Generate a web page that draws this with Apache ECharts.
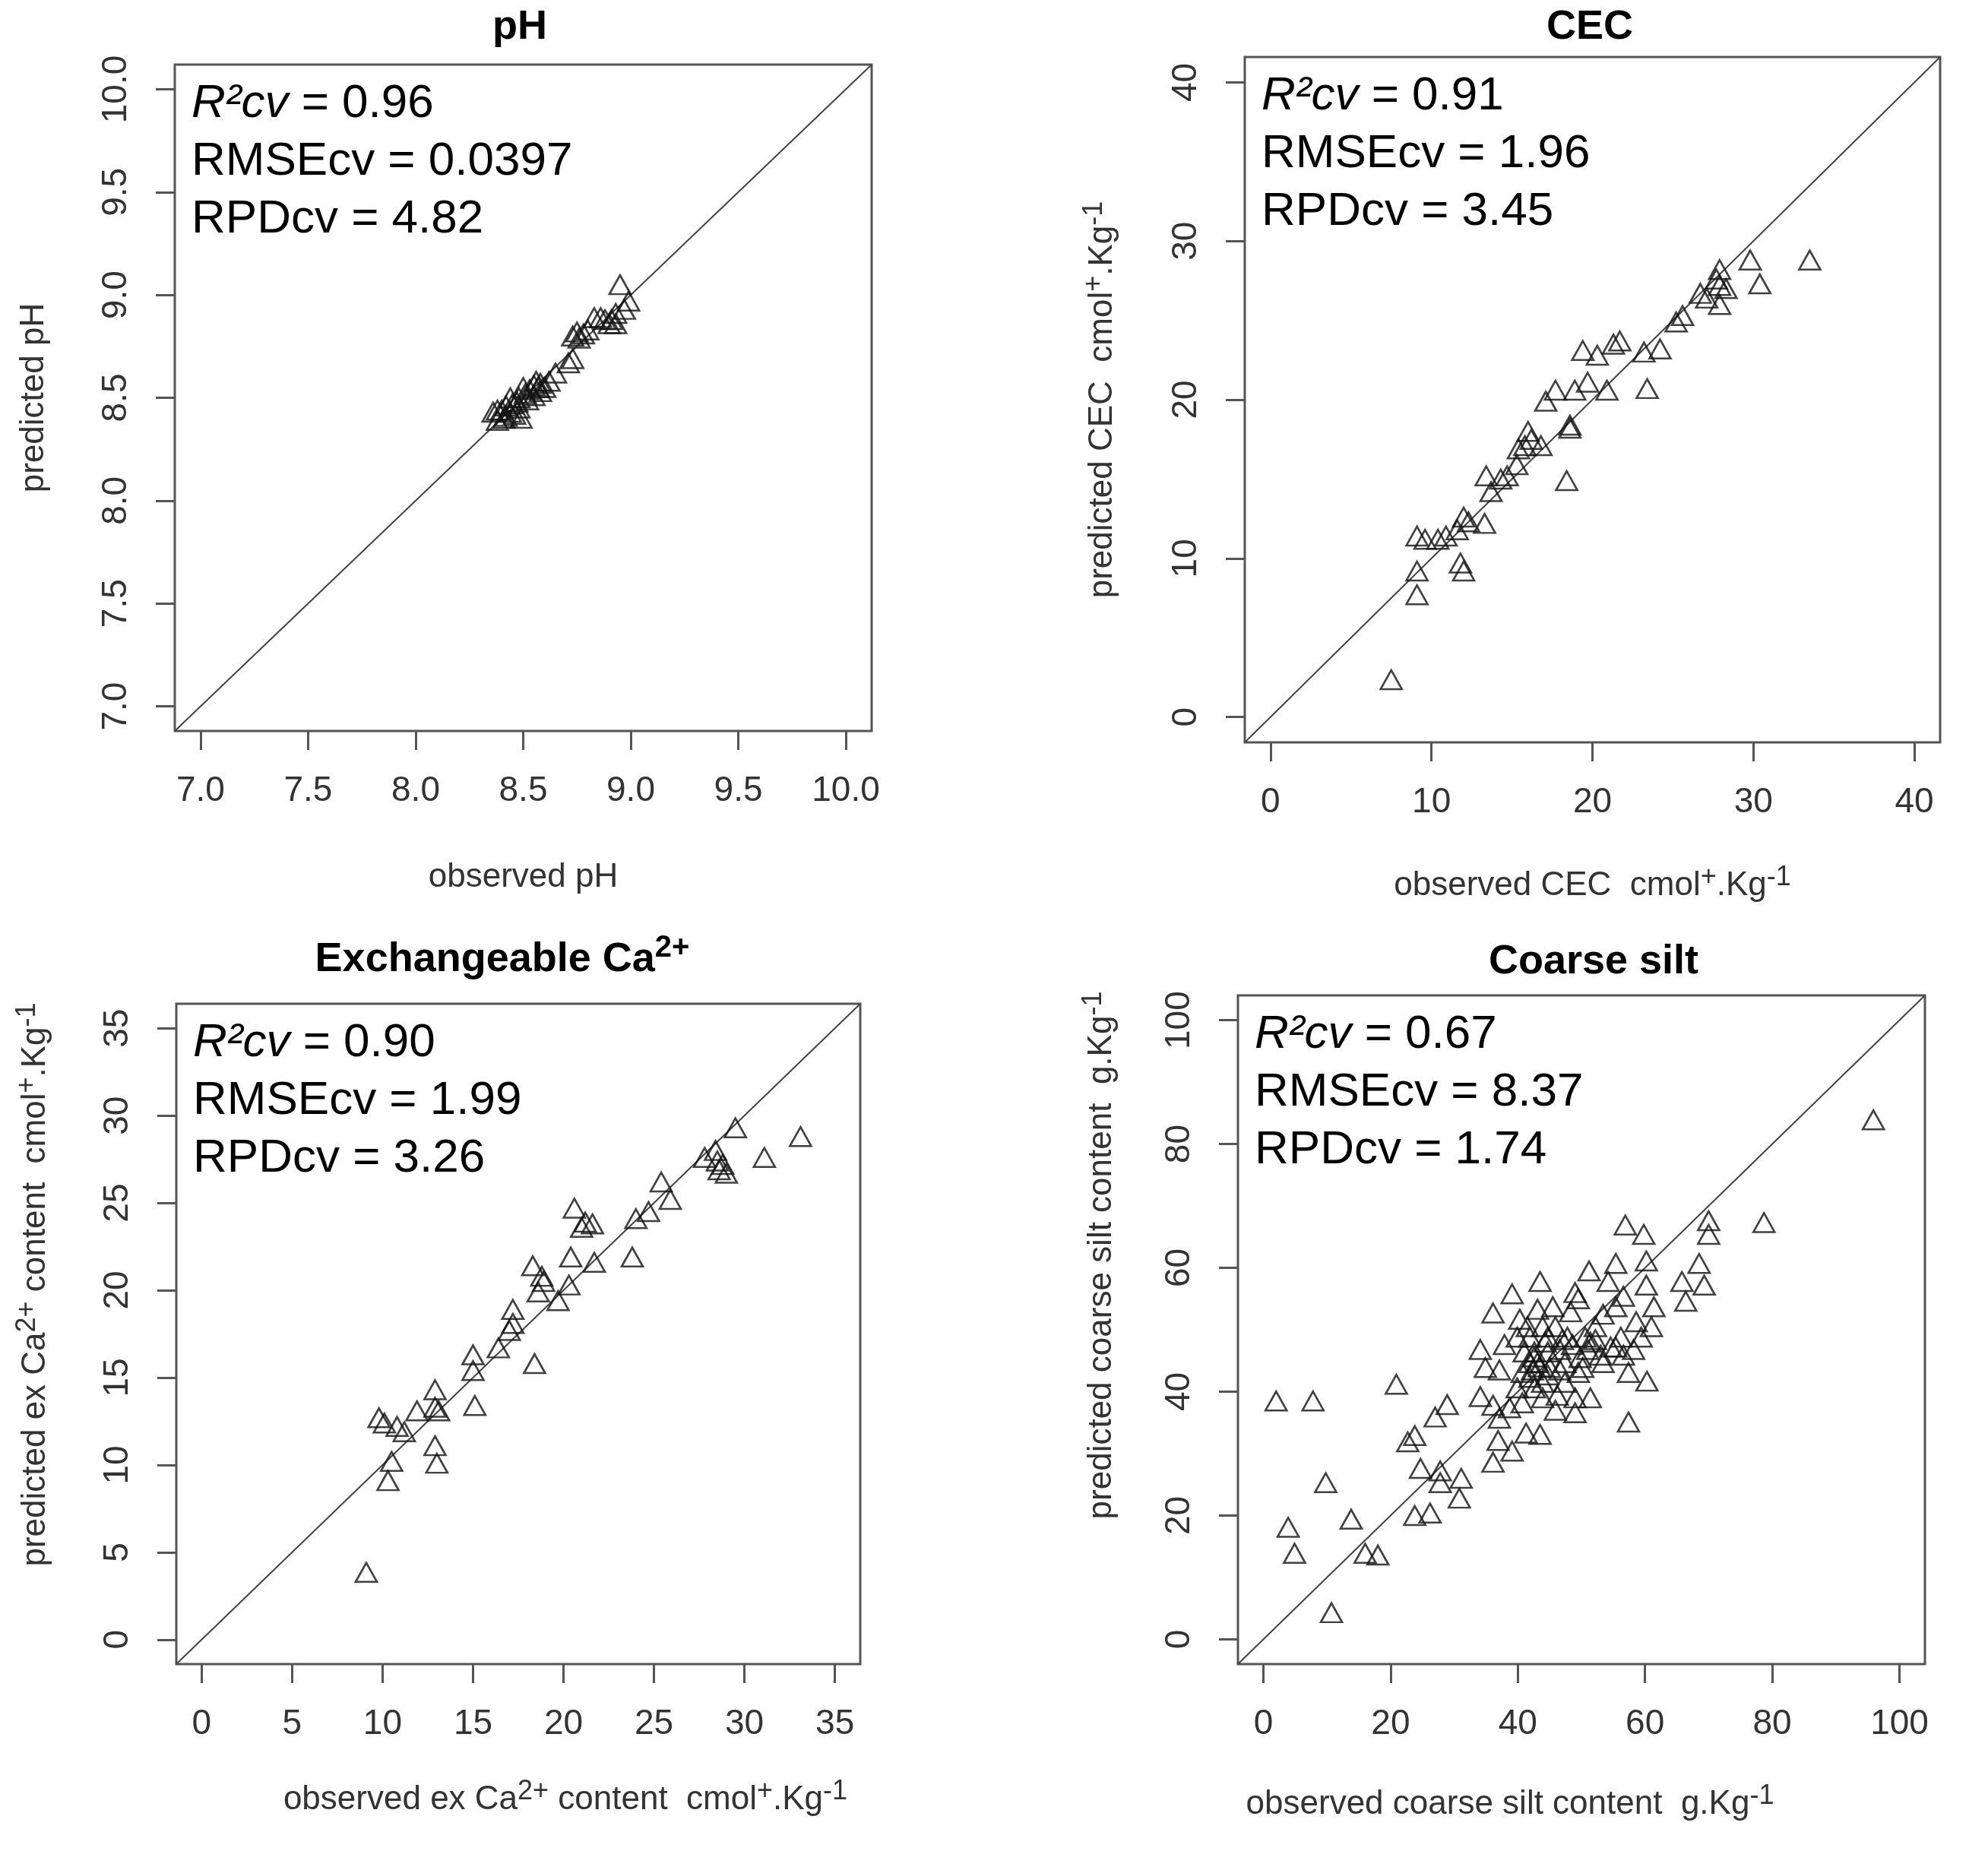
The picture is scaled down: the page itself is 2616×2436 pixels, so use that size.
<!DOCTYPE html>
<html>
<head>
<meta charset="utf-8">
<script src="https://cdn.jsdelivr.net/npm/echarts@6/dist/echarts.min.js"></script>
<style>
html,body{margin:0;padding:0;background:#fff;}
#main{width:2616px;height:2436px;}
</style>
</head>
<body>
<div id="main"></div>
<script>

// =================================
// cross-validation scatter plots
// observed vs predicted, 4 panels
// =================================

const FONT = "'Liberation Sans', Arial, sans-serif";


// ---- pH ----
const phObs = [8.95, 8.99, 8.97, 8.93, 8.91, 8.88, 8.93, 8.90, 8.86, 8.83,
  8.80, 8.78, 8.75, 8.73, 8.76, 8.73, 8.71, 8.65, 8.62, 8.58,
  8.57, 8.55, 8.53, 8.51, 8.50, 8.48, 8.47, 8.45, 8.44, 8.42,
  8.40, 8.38, 8.36, 8.38, 8.42, 8.46, 8.49, 8.44, 8.52, 8.55,
  8.58, 8.60, 8.56, 8.48, 8.41];
const phPred = [9.05, 8.97, 8.93, 8.91, 8.88, 8.88, 8.86, 8.86, 8.89, 8.89,
  8.83, 8.81, 8.82, 8.80, 8.79, 8.69, 8.67, 8.62, 8.58, 8.57,
  8.55, 8.56, 8.54, 8.52, 8.55, 8.50, 8.48, 8.47, 8.50, 8.46,
  8.44, 8.44, 8.43, 8.39, 8.41, 8.42, 8.40, 8.43, 8.49, 8.51,
  8.53, 8.55, 8.58, 8.45, 8.40];
const phTicks = [7, 7.5, 8, 8.5, 9, 9.5, 10];


// ---- CEC ----
const cecObs = [7.5, 9.1, 9.1, 9.1, 9.6, 10.4, 10.9, 11.6, 12.0, 12.3,
  11.8, 12.0, 13.3, 13.4, 13.7, 14.3, 14.7, 15.3, 15.8, 16.2,
  15.4, 16.0, 16.8, 18.6, 18.6, 18.4, 17.1, 17.7, 18.9, 19.7,
  20.9, 19.4, 20.3, 21.3, 21.7, 23.2, 24.2, 23.4, 25.2, 25.6,
  26.7, 27.1, 27.9, 28.3, 27.9, 27.9, 27.7, 29.8, 30.4, 33.5];
const cecPred = [2.35, 7.7, 9.2, 11.4, 11.2, 11.2, 11.4, 11.8, 12.6, 12.3,
  9.7, 9.2, 12.2, 15.2, 14.2, 15.0, 15.2, 15.9, 17.1, 17.5,
  16.9, 18.0, 17.1, 18.4, 18.2, 14.9, 19.9, 20.6, 20.6, 21.1,
  20.6, 23.1, 22.8, 23.5, 23.7, 23.0, 23.2, 20.7, 24.9, 25.3,
  26.7, 26.4, 27.2, 27.0, 26.0, 28.2, 27.6, 28.8, 27.3, 28.8];
const cecTicks = [0, 10, 20, 30, 40];


// ---- exchangeable Ca2+ ----
const caObs = [9.1, 9.8, 10.1, 10.5, 10.3, 10.8, 11.2, 11.9, 12.9, 12.9,
  13.1, 12.9, 13.0, 15.0, 15.0, 15.1, 16.4, 17.0, 17.2, 17.2,
  18.4, 18.3, 18.8, 18.6, 18.9, 19.7, 20.3, 20.4, 20.6, 21.0,
  21.2, 21.6, 21.7, 24.0, 24.7, 23.8, 25.4, 25.9, 27.8, 28.4,
  28.5, 28.6, 28.8, 29.0, 29.5, 31.1, 33.1];
const caPred = [3.85, 12.7, 12.4, 10.2, 9.1, 12.2, 11.9, 13.1, 14.3, 13.3,
  13.1, 11.1, 10.1, 15.4, 16.3, 13.4, 16.7, 17.7, 18.1, 18.9,
  15.8, 21.4, 20.8, 19.9, 20.5, 19.4, 20.3, 21.9, 24.7, 23.6,
  23.9, 23.8, 21.6, 24.1, 24.5, 21.9, 26.2, 25.2, 27.6, 28.0,
  27.4, 26.9, 27.2, 26.7, 29.3, 27.6, 28.8];
const caTicks = [0, 5, 10, 15, 20, 25, 30, 35];


// ---- coarse silt ----
const siltObs = [95.9, 78.7, 70.0, 70.0, 56.9, 59.8,
  20.9, 2.0, 7.8, 28.9, 27.0, 23.8, 22.7, 24.7, 27.8, 27.8, 31.1, 30.8,
  23.8, 26.2, 13.8, 9.8, 3.9, 4.9, 16.0, 18.0, 10.7,
  43.5, 39.1, 36.1, 34.1, 34.9, 37.1, 34.1, 36.1, 37.1, 36.9,
  39.1, 36.1, 41.3, 43.5, 40.3, 43.1, 45.5, 49.0, 51.2, 55.4,
  60.2, 54.2, 56.6, 60.2, 61.4, 61.0, 59.4, 56.2, 54.6, 65.8,
  68.5, 69.3, 66.4, 51.4, 50.2, 53.0, 56.6, 57.4, 41.9, 42.6,
  42.3, 43.9, 45.0, 46.6, 47.8, 45.9, 48.3, 49.5, 42.6, 43.9,
  46.2, 49.0, 51.4, 45.9, 49.0, 39.9, 40.7, 38.7, 44.3, 44.7,
  47.4, 49.8, 52.2, 53.4, 55.4, 53.4, 55.4, 58.6, 58.2, 41.0,
  41.5, 39.9, 43.1, 37.9, 49.5, 42.6, 43.4, 41.9, 44.7, 47.0,
  48.6, 50.6, 51.0, 41.9, 44.7, 47.4, 40.7, 43.9, 46.6, 52.2,
  57.4, 60.3];
const siltPred = [83.9, 67.3, 67.6, 65.4, 66.9, 65.4,
  41.2, 38.5, 38.5, 37.9, 35.9, 32.9, 31.9, 27.6, 27.2, 25.3, 26.0, 22.8,
  20.0, 20.4, 19.4, 25.3, 18.1, 13.9, 13.9, 13.6, 4.3,
  57.8, 55.8, 52.7, 46.8, 43.9, 43.5, 39.2, 37.8, 35.7, 32.1,
  30.4, 28.6, 33.3, 33.1, 51.7, 53.3, 53.7, 56.0, 59.5, 60.7,
  61.1, 57.8, 55.4, 57.2, 53.7, 50.5, 48.8, 48.8, 47.2, 57.8,
  60.7, 57.2, 54.6, 48.0, 43.9, 45.9, 45.9, 43.1, 48.8, 46.4,
  43.5, 41.5, 43.9, 46.8, 48.8, 50.5, 52.9, 55.0, 40.6, 39.0,
  39.4, 39.0, 39.0, 37.0, 36.6, 40.6, 38.2, 37.4, 48.0, 46.4,
  44.7, 45.5, 50.5, 52.5, 53.7, 44.7, 47.2, 51.3, 46.8, 46.4,
  50.5, 48.8, 44.7, 47.6, 43.1, 45.6, 44.0, 42.3, 48.8, 48.4,
  47.6, 48.8, 46.8, 44.7, 42.7, 41.5, 43.1, 50.5, 43.5, 48.4,
  35.1, 41.7];
const siltTicks = [0, 20, 40, 60, 80, 100];



// rich text styles (superscripts)

const nameRich = {
  n: {fontSize: 44, fontFamily: FONT, color: "#333", lineHeight: 58},
  s: {fontSize: 36, fontFamily: FONT, color: "#333", lineHeight: 28, verticalAlign: "top"}
};

const titleRich = {
  t: {fontSize: 54, fontWeight: "bold", fontFamily: FONT, color: "#000", lineHeight: 70},
  s: {fontSize: 40, fontWeight: "bold", fontFamily: FONT, color: "#000", lineHeight: 40, verticalAlign: "top"}
};

const statRich = {
  i: {fontSize: 62, fontStyle: "italic", fontWeight: "normal", fontFamily: FONT, color: "#000", lineHeight: 76},
  n: {fontSize: 62, fontWeight: "normal", fontFamily: FONT, color: "#000", lineHeight: 76}
};



// panel settings

const panels = [
  {
    obs: phObs, pred: phPred, ticks: phTicks, digits: 1,
    lo: 6.88, hi: 10.12,
    box: {left: 230, top: 85, width: 917, height: 877},
    title: "{t|pH}", titleX: 684, titleY: 1,
    xName: "{n|observed pH}", yName: "{n|predicted pH}",
    xGap: 164, yGap: 156, xPad: [0, 0, 0, 0], yPad: [0, 0, 0, 0],
    stats: ["0.96", "0.0397", "4.82"]
  },
  {
    obs: cecObs, pred: cecPred, ticks: cecTicks, digits: 0,
    lo: -1.6, hi: 41.6,
    box: {left: 1638, top: 75, width: 915, height: 902},
    title: "{t|CEC}", titleX: 2092, titleY: 1,
    xName: "{n|observed CEC  cmol}{s|+}{n|.Kg}{s|-1}",
    yName: "{n|predicted CEC  cmol}{s|+}{n|.Kg}{s|-1}",
    xGap: 160, yGap: 158, xPad: [0, 0, 0, 0], yPad: [0, 0, 0, 0],
    stats: ["0.91", "1.96", "3.45"]
  },
  {
    obs: caObs, pred: caPred, ticks: caTicks, digits: 0,
    lo: -1.4, hi: 36.4,
    box: {left: 232, top: 1321, width: 900, height: 869},
    title: "{t|Exchangeable Ca}{s|2+}", titleX: 661, titleY: 1228,
    xName: "{n|observed ex Ca}{s|2+}{n| content  cmol}{s|+}{n|.Kg}{s|-1}",
    yName: "{n|predicted ex Ca}{s|2+}{n| content  cmol}{s|+}{n|.Kg}{s|-1}",
    xGap: 150, yGap: 156, xPad: [0, 0, 0, 124], yPad: [0, 0, 0, 130],
    stats: ["0.90", "1.99", "3.26"]
  },
  {
    obs: siltObs, pred: siltPred, ticks: siltTicks, digits: 0,
    lo: -4, hi: 104,
    box: {left: 1629, top: 1310, width: 904, height: 880},
    title: "{t|Coarse silt}", titleX: 2097, titleY: 1231,
    xName: "{n|observed coarse silt content  g.Kg}{s|-1}",
    yName: "{n|predicted coarse silt content  g.Kg}{s|-1}",
    xGap: 156, yGap: 150, xPad: [0, 188, 0, 0], yPad: [0, 0, 0, 196],
    stats: ["0.67", "8.37", "1.74"]
  }
];



function makeAxis(p, i, isX){

  return {
    type: "value",
    gridIndex: i,
    min: p.lo,
    max: p.hi,
    splitLine: {show: false},
    axisLine: {show: false, onZero: false},
    axisTick: {
      show: true,
      inside: false,
      length: 25,
      customValues: p.ticks,
      lineStyle: {color: "#555", width: 3}
    },
    axisLabel: {
      customValues: p.ticks,
      rotate: isX ? 0 : 90,
      margin: isX ? 56 : 54,
      fontSize: 46,
      fontFamily: FONT,
      color: "#333",
      formatter: v => Number(v).toFixed(p.digits)
    },
    name: isX ? p.xName : p.yName,
    nameLocation: "middle",
    nameGap: isX ? p.xGap : p.yGap,
    nameTextStyle: {
      rich: nameRich,
      padding: isX ? p.xPad : p.yPad
    }
  };

}



const grids = [], xAxes = [], yAxes = [], series = [], titles = [];

panels.forEach((p, i) => {

  grids.push(Object.assign({
    show: true,
    borderColor: "#555",
    borderWidth: 3,
    backgroundColor: "#fff",
    containLabel: false
  }, p.box));

  xAxes.push(makeAxis(p, i, true));
  yAxes.push(makeAxis(p, i, false));

  // 1:1 line across the plot box
  series.push({
    type: "line",
    xAxisIndex: i,
    yAxisIndex: i,
    data: [[p.lo, p.lo], [p.hi, p.hi]],
    symbol: "none",
    silent: true,
    lineStyle: {color: "#444", width: 2},
    z: 1
  });

  series.push({
    type: "scatter",
    xAxisIndex: i,
    yAxisIndex: i,
    data: p.obs.map((v, k) => [v, p.pred[k]]),
    symbol: "triangle",
    symbolSize: [28, 25],
    itemStyle: {
      color: "rgba(255,255,255,0)",
      borderColor: "#111",
      borderWidth: 2.6
    },
    z: 3
  });

  titles.push({
    text: p.title,
    left: p.titleX,
    top: p.titleY,
    textAlign: "center",
    padding: 0,
    textStyle: {rich: titleRich}
  });

  titles.push({
    text: "{i|R²cv}{n| = " + p.stats[0] + "}\n" +
          "{n|RMSEcv = " + p.stats[1] + "}\n" +
          "{n|RPDcv = " + p.stats[2] + "}",
    left: p.box.left + 22,
    top: p.box.top + 14,
    padding: 0,
    textStyle: {fontWeight: "normal", rich: statRich}
  });

});



const chart = echarts.init(document.getElementById("main"));

chart.setOption({
  animation: false,
  backgroundColor: "#fff",
  title: titles,
  grid: grids,
  xAxis: xAxes,
  yAxis: yAxes,
  series: series
});

window.addEventListener("resize", () => chart.resize());

</script>
</body>
</html>
